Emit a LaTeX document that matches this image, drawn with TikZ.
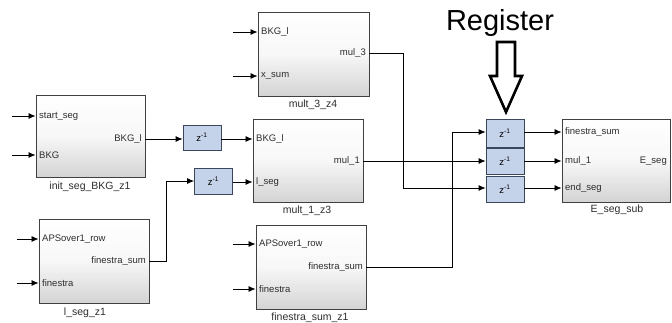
\documentclass[tikz,border=0pt]{standalone}
\usepackage{fontspec}
\setmainfont{Liberation Sans}
\usetikzlibrary{arrows.meta,shadows}
\definecolor{regfill}{RGB}{196,210,234}
\definecolor{regdraw}{RGB}{60,70,90}
\definecolor{txt}{RGB}{45,45,45}
\begin{document}
\begin{tikzpicture}[x=1pt,y=-1pt,
 block/.style={draw=black!75, line width=0.9pt, top color=white, bottom color=black!17, middle color=black!3, inner sep=0pt,
   drop shadow={shadow xshift=1pt,shadow yshift=-1pt,fill=black!45,opacity=0.7}},
 delay/.style={draw=regdraw, line width=0.8pt, fill=regfill, minimum width=38pt, inner sep=0pt,
   font=\fontsize{9.5}{10}\selectfont},
 port/.style={font=\fontsize{9.5}{11}\selectfont, text=txt, inner sep=0pt},
 blabel/.style={font=\fontsize{10.5}{12}\selectfont, text=txt, inner sep=0pt},
 wire/.style={line width=0.8pt, black},
 arr/.style={wire, -{Latex[length=7pt,width=6pt]}}
]
\useasboundingbox (0,0) rectangle (672,322);

% ---------- blocks ----------
\node[block, minimum width=109, minimum height=82] (init)  at (90.5,136) {};
\node[block, minimum width=110, minimum height=84] (lseg)  at (94,261) {};
\node[block, minimum width=111, minimum height=84] (mult3) at (313.5,54) {};
\node[block, minimum width=110, minimum height=83] (mult1) at (308,160.5) {};
\node[block, minimum width=110, minimum height=84] (finz)  at (311,267) {};
\node[block, minimum width=108, minimum height=83] (eseg)  at (616,160.5) {};

% ---------- delays ----------
\node[delay, minimum height=25] (d1) at (202,137.5) {z\textsuperscript{-1}};
\node[delay, minimum height=26] (d2) at (213.5,181) {z\textsuperscript{-1}};
\node[delay, minimum height=28] (r1) at (505,133) {z\textsuperscript{-1}};
\node[delay, minimum height=26] (r2) at (505,161) {z\textsuperscript{-1}};
\node[delay, minimum height=26] (r3) at (505,189) {z\textsuperscript{-1}};

% ---------- port labels ----------
\node[port, anchor=west] (init_a) at (39,116) {start\_seg};
\node[port, anchor=west] (init_b) at (39,155) {BKG};
\node[port, anchor=east] (init_o) at (142,139) {BKG\_l};

\node[port, anchor=west] (lseg_a) at (42,239) {APSover1\_row};
\node[port, anchor=west] (lseg_b) at (42,283) {finestra};
\node[port, anchor=east] (lseg_o) at (146,261) {finestra\_sum};

\node[port, anchor=west] (m3_a) at (261,32) {BKG\_l};
\node[port, anchor=west] (m3_b) at (261,76) {x\_sum};
\node[port, anchor=east] (m3_o) at (366,53) {mul\_3};

\node[port, anchor=west] (m1_a) at (256,139) {BKG\_l};
\node[port, anchor=west] (m1_b) at (256,182) {l\_seg};
\node[port, anchor=east] (m1_o) at (360,161) {mul\_1};

\node[port, anchor=west] (f_a) at (259,244) {APSover1\_row};
\node[port, anchor=west] (f_b) at (259,289) {finestra};
\node[port, anchor=east] (f_o) at (363,267) {finestra\_sum};

\node[port, anchor=west] (e_a) at (565,132) {finestra\_sum};
\node[port, anchor=west] (e_b) at (565,161) {mul\_1};
\node[port, anchor=west] (e_c) at (565,188) {end\_seg};
\node[port, anchor=east] (e_o) at (667,161) {E\_seg};

% ---------- block names ----------
\node[blabel] (l_init)  at (90,187) {init\_seg\_BKG\_z1};
\node[blabel] (l_lseg)  at (85,313) {l\_seg\_z1};
\node[blabel] (l_mult3) at (313,105) {mult\_3\_z4};
\node[blabel] (l_mult1) at (307,211) {mult\_1\_z3};
\node[blabel] (l_finz)  at (310,318) {finestra\_sum\_z1};
\node[blabel] (l_eseg)  at (617,210) {E\_seg\_sub};

% ---------- free input ends ----------
\coordinate (s1) at (12,116);  \coordinate (s2) at (12,155);
\coordinate (s3) at (17,239);  \coordinate (s4) at (17,283);
\coordinate (s5) at (233,32);  \coordinate (s6) at (233,76);
\coordinate (s7) at (233,244); \coordinate (s8) at (233,289);
\draw[arr] (s1) -- (s1 -| init.west);
\draw[arr] (s2) -- (s2 -| init.west);
\draw[arr] (s3) -- (s3 -| lseg.west);
\draw[arr] (s4) -- (s4 -| lseg.west);
\draw[arr] (s5) -- (s5 -| mult3.west);
\draw[arr] (s6) -- (s6 -| mult3.west);
\draw[arr] (s7) -- (s7 -| finz.west);
\draw[arr] (s8) -- (s8 -| finz.west);

% ---------- connections ----------
\coordinate (io) at (init.east |- init_o);
\draw[arr] (io) -- (io -| d1.west);
\draw[arr] (d1.east |- init_o) -- (mult1.west |- init_o);

\coordinate (lo) at (lseg.east |- lseg_o);
\coordinate (lk) at (166,261);
\draw[arr] (lo) -- (lk) -- (lk |- d2.west) -- (d2.west);
\draw[arr] (d2.east |- m1_b) -- (mult1.west |- m1_b);

\coordinate (m3o) at (mult3.east |- m3_o);
\coordinate (m3k) at (403,53);
\draw[arr] (m3o) -- (m3k) -- (m3k |- e_c) -- (r3.west |- e_c);

\coordinate (m1o) at (mult1.east |- e_b);
\draw[arr] (m1o) -- (r2.west |- e_b);

\coordinate (fo) at (finz.east |- f_o);
\coordinate (fk) at (452,267);
\draw[arr] (fo) -- (fk) -- (fk |- e_a) -- (r1.west |- e_a);

\draw[arr] (r1.east |- e_a) -- (eseg.west |- e_a);
\draw[arr] (r2.east |- e_b) -- (eseg.west |- e_b);
\draw[arr] (r3.east |- e_c) -- (eseg.west |- e_c);

% ---------- Register annotation ----------
\node[font=\fontsize{29}{32}\selectfont, inner sep=0pt] (reg) at (500,23) {Register};
\draw[line width=2.6pt, line join=miter]
  (497,42) -- (515,42) -- (515,76) -- (522,76) -- (506,112) -- (490,76) -- (497,76) -- cycle;
\end{tikzpicture}
\end{document}
